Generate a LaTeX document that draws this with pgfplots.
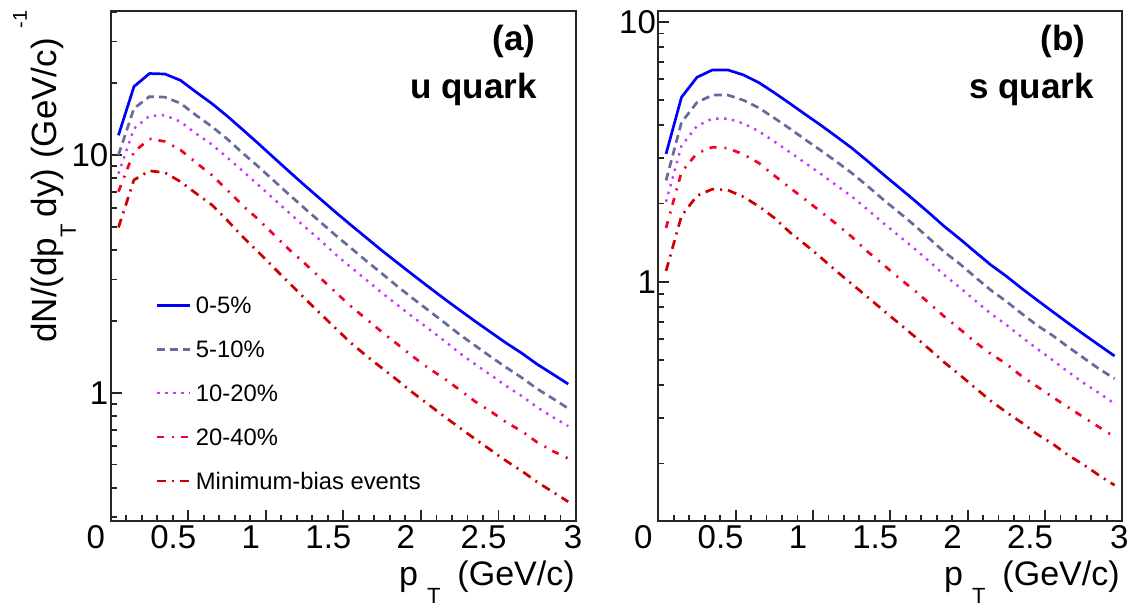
\documentclass[border=0pt]{standalone}
\usepackage{fontspec}
\setmainfont{Liberation Sans}
\usepackage{pgfplots}
\usepackage{pgfplotstable}
\pgfplotsset{compat=1.18}

\definecolor{c05}{RGB}{0,0,250}
\definecolor{c510}{RGB}{105,105,155}
\definecolor{c1020}{RGB}{204,51,255}
\definecolor{c2040}{RGB}{245,0,40}
\definecolor{cmb}{RGB}{205,0,0}

% u quark
\pgfplotstableread{
pt   c05   c510  c1020  c2040  mb
0.05 12.1  10.0  8.35   7.02   4.96
0.15 19.4  15.7  12.9   10.3   7.86
0.25 22.0  17.6  14.6   11.7   8.58
0.35 21.9  17.5  14.7   11.4   8.43
0.45 20.6  16.5  13.8   10.5   7.73
0.55 18.4  14.7  12.3   9.29   6.90
0.65 16.5  13.2  11.1   8.25   6.19
0.75 14.6  11.7  9.78   7.15   5.33
0.85 12.8  10.2  8.58   6.14   4.54
0.95 11.2  8.96  7.50   5.38   3.92
1.05 9.77  7.82  6.55   4.64   3.37
1.15 8.53  6.82  5.72   4.01   2.90
1.25 7.46  5.97  5.00   3.51   2.50
1.35 6.55  5.24  4.39   3.05   2.16
1.45 5.75  4.60  3.82   2.65   1.87
1.55 5.07  4.06  3.37   2.31   1.62
1.65 4.48  3.58  2.98   2.04   1.43
1.75 3.96  3.17  2.63   1.80   1.27
1.85 3.52  2.80  2.34   1.60   1.13
1.95 3.13  2.49  2.08   1.42   1.00
2.05 2.79  2.22  1.86   1.27   0.893
2.15 2.49  1.98  1.66   1.15   0.797
2.25 2.23  1.76  1.47   1.03   0.714
2.35 2.00  1.58  1.32   0.920  0.640
2.45 1.80  1.42  1.19   0.837  0.576
2.55 1.62  1.28  1.07   0.753  0.518
2.65 1.47  1.16  0.970  0.691  0.470
2.75 1.32  1.04  0.871  0.620  0.422
2.85 1.20  0.948 0.792  0.570  0.384
2.95 1.09  0.861 0.725  0.530  0.349
}\utable

% s quark
\pgfplotstableread{
pt   c05   c510  c1020  c2040  mb
0.05 3.10  2.45  2.03   1.61   1.10
0.15 5.12  4.10  3.33   2.64   1.79
0.25 6.11  4.89  3.97   3.12   2.14
0.35 6.52  5.22  4.24   3.29   2.27
0.45 6.52  5.22  4.24   3.26   2.25
0.55 6.24  4.99  4.06   3.09   2.12
0.65 5.83  4.66  3.79   2.86   1.95
0.75 5.33  4.26  3.46   2.56   1.76
0.85 4.85  3.88  3.15   2.30   1.55
0.95 4.40  3.52  2.86   2.07   1.39
1.05 4.00  3.20  2.60   1.86   1.24
1.15 3.62  2.90  2.35   1.67   1.10
1.25 3.27  2.62  2.13   1.49   0.981
1.35 2.92  2.34  1.90   1.31   0.876
1.45 2.60  2.08  1.69   1.17   0.780
1.55 2.32  1.86  1.51   1.04   0.696
1.65 2.07  1.66  1.35   0.932  0.621
1.75 1.84  1.47  1.20   0.828  0.552
1.85 1.63  1.30  1.06   0.734  0.489
1.95 1.46  1.17  0.949  0.657  0.438
2.05 1.30  1.04  0.845  0.585  0.390
2.15 1.16  0.928 0.754  0.528  0.348
2.25 1.05  0.840 0.683  0.483  0.315
2.35 0.942 0.754 0.612  0.433  0.287
2.45 0.849 0.679 0.552  0.395  0.259
2.55 0.767 0.621 0.499  0.360  0.238
2.65 0.693 0.561 0.450  0.329  0.215
2.75 0.628 0.509 0.408  0.301  0.198
2.85 0.570 0.462 0.373  0.276  0.180
2.95 0.518 0.424 0.340  0.253  0.165
}\stable

\newcommand\pxy[2]{({((#1)-110.7)*0.5pt},{(520.7-(#2))*0.5pt})}

\tikzset{
  s05/.style={line width=1.35pt, color=c05, solid, line join=round},
  s510/.style={line width=1.35pt, color=c510, dash pattern=on 4pt off 2.5pt},
  s1020/.style={line width=1.2pt, color=c1020, dash pattern=on 1.2pt off 2.8pt},
  s2040/.style={line width=1.35pt, color=c2040, dash pattern=on 3.5pt off 4pt on 1pt off 3.5pt},
  smb/.style={line width=1.35pt, color=cmb, dash pattern=on 4.5pt off 3pt on 1pt off 3pt},
}

\begin{document}
\begin{tikzpicture}
\useasboundingbox (-55.35pt,-44.15pt) rectangle (509.65pt,260.35pt);

\begin{axis}[at={(0pt,0pt)}, anchor=south west, width=232.65pt,
  scale only axis, height=254.85pt,
  ymode=log, xmin=0, xmax=3,
  no markers,
  tick pos=left, tick align=inside,
  axis line style={line width=0.9pt, black!85},
  every tick/.style={line width=0.9pt, black!85},
  major tick length=5.5pt, minor tick length=3pt,
  xtick={0,0.5,1,1.5,2,2.5,3},
  xticklabels={0,0.5,1,1.5,2,2.5,\hspace*{12pt}3},
  minor xtick={0.1,0.2,0.3,0.4,0.6,0.7,0.8,0.9,1.1,1.2,1.3,1.4,1.6,1.7,1.8,1.9,2.1,2.2,2.3,2.4,2.6,2.7,2.8,2.9},
  ytick={1,10}, yticklabels={1,10},
  xticklabel style={font=\fontsize{16.5}{16.5}\selectfont, inner sep=0pt, yshift=-2.2pt, xshift=-7.5pt},
  yticklabel style={font=\fontsize{16.5}{16.5}\selectfont, inner sep=0pt, xshift=-1pt},
  ymin=0.2905, ymax=40.3,
  minor ytick={0.3,0.4,0.5,0.6,0.7,0.8,0.9,2,3,4,5,6,7,8,9,20,30,40},
  legend style={at={(rel axis cs:0.0974,0.4412)}, anchor=north west,
    draw=none, fill=none, inner sep=0pt, outer sep=0pt,
    font=\fontsize{11.9}{13}\selectfont, row sep=12.2pt,
    nodes={inner sep=0pt, text height=8.4pt, text depth=0pt}},
  legend cell align=left,
  legend image code/.code={\path (0pt,-4.2pt) (18.6pt,4.2pt); \draw[#1] (0pt,0pt) -- (16.5pt,0pt);},
]
\addplot[s05] table[x=pt,y=c05] {\utable}; \addlegendentry{0-5\%}
\addplot[s510] table[x=pt,y=c510] {\utable}; \addlegendentry{5-10\%}
\addplot[s1020] table[x=pt,y=c1020] {\utable}; \addlegendentry{10-20\%}
\addplot[s2040] table[x=pt,y=c2040] {\utable}; \addlegendentry{20-40\%}
\addplot[smb] table[x=pt,y=mb] {\utable}; \addlegendentry{Minimum-bias events}
\end{axis}

\begin{axis}[at={(273.8pt,0pt)}, anchor=south west, width=232pt,
  scale only axis, height=254.85pt,
  ymode=log, xmin=0, xmax=3,
  no markers,
  tick pos=left, tick align=inside,
  axis line style={line width=0.9pt, black!85},
  every tick/.style={line width=0.9pt, black!85},
  major tick length=5.5pt, minor tick length=3pt,
  xtick={0,0.5,1,1.5,2,2.5,3},
  xticklabels={0,0.5,1,1.5,2,2.5,\hspace*{12pt}3},
  minor xtick={0.1,0.2,0.3,0.4,0.6,0.7,0.8,0.9,1.1,1.2,1.3,1.4,1.6,1.7,1.8,1.9,2.1,2.2,2.3,2.4,2.6,2.7,2.8,2.9},
  ytick={1,10}, yticklabels={1,10},
  xticklabel style={font=\fontsize{16.5}{16.5}\selectfont, inner sep=0pt, yshift=-2.2pt, xshift=-7.5pt},
  yticklabel style={font=\fontsize{16.5}{16.5}\selectfont, inner sep=0pt, xshift=-1pt},
  ymin=0.1205, ymax=10.99,
  minor ytick={0.2,0.3,0.4,0.5,0.6,0.7,0.8,0.9,2,3,4,5,6,7,8,9},
]
\addplot[s05] table[x=pt,y=c05] {\stable};
\addplot[s510] table[x=pt,y=c510] {\stable};
\addplot[s1020] table[x=pt,y=c1020] {\stable};
\addplot[s2040] table[x=pt,y=c2040] {\stable};
\addplot[smb] table[x=pt,y=mb] {\stable};
\end{axis}

% panel texts
\node[anchor=base east, inner sep=0pt, font=\bfseries\fontsize{17.5}{17.5}\selectfont] at \pxy{536}{50.5} {(a)};
\node[anchor=base east, inner sep=0pt, font=\bfseries\fontsize{17.5}{17.5}\selectfont] at \pxy{537}{98.5} {u quark};
\node[anchor=base east, inner sep=0pt, font=\bfseries\fontsize{17.5}{17.5}\selectfont] at \pxy{1086}{50.5} {(b)};
\node[anchor=base east, inner sep=0pt, font=\bfseries\fontsize{17.5}{17.5}\selectfont] at \pxy{1094}{98.5} {s quark};

% x labels
\node[anchor=base east, inner sep=0pt, font=\fontsize{17}{17}\selectfont] at \pxy{575}{586}
  {p\hspace{4.5pt}\raisebox{-8.8pt}{\fontsize{11}{11}\selectfont T}\hspace{8.5pt}(GeV/c)};
\node[anchor=base east, inner sep=0pt, font=\fontsize{17}{17}\selectfont] at \pxy{1120}{586}
  {p\hspace{4.5pt}\raisebox{-8.8pt}{\fontsize{11}{11}\selectfont T}\hspace{8.5pt}(GeV/c)};

% y label
\node[rotate=90, anchor=base east, inner sep=0pt, font=\fontsize{17.5}{17.5}\selectfont] at \pxy{57}{10}
  {dN/(dp\raisebox{-9.5pt}{\fontsize{11}{11}\selectfont T}\hspace{3.5pt}dy) (GeV/c)\hspace{5pt}\raisebox{15pt}{\fontsize{10}{10}\selectfont -1}};
\end{tikzpicture}
\end{document}
